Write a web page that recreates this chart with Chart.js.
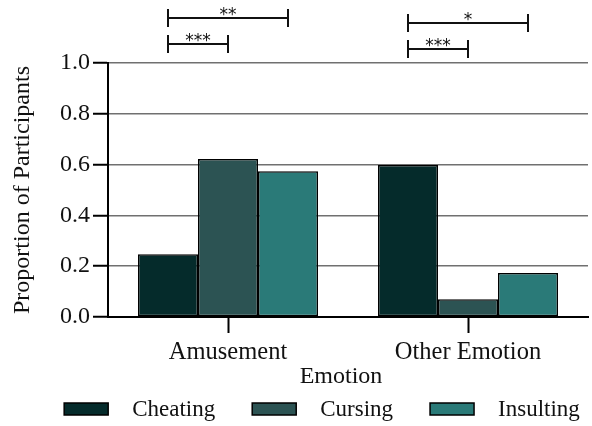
<!DOCTYPE html>
<html>
<head>
<meta charset="utf-8">
<script src="https://cdn.jsdelivr.net/npm/chart.js@4/dist/chart.umd.min.js"></script>
<style>
  html, body { margin: 0; padding: 0; background: #ffffff; }
  #wrap { width: 592px; height: 426px; position: relative; }
</style>
</head>
<body>
<div id="wrap"><canvas id="c" width="592" height="426"></canvas></div>
<script>
// ---- Data ----
const categories = ['Amusement', 'Other Emotion'];
const seriesNames = ['Cheating', 'Cursing', 'Insulting'];
const cheating = [0.247, 0.598];
const cursing = [0.622, 0.070];
const insulting = [0.574, 0.173];
const yTickValues = [0.0, 0.2, 0.4, 0.6, 0.8, 1.0];
const xAxisTitle = 'Emotion';
const yAxisTitle = 'Proportion of Participants';
// significance comparisons: category index, from series, to series, label
const sigCategory = [0, 0, 1, 1];
const sigFrom = [0, 0, 0, 0];
const sigTo = [1, 2, 1, 2];
const sigLabel = ['***', '**', '***', '*'];

// ---- Style ----
const colors = ['#052b2b', '#2c5353', '#2a7a78'];
const serif = "'Liberation Serif', 'Times New Roman', serif";
const bracketOffsets = [19, 45, 14, 40]; // px above plot top

const annotate = {
  id: 'annotate',
  afterDraw(chart) {
    const ctx = chart.ctx;
    const area = chart.chartArea;
    ctx.save();
    // significance brackets
    ctx.strokeStyle = '#111';
    ctx.fillStyle = '#111';
    ctx.lineWidth = 2;
    for (let i = 0; i < sigLabel.length; i++) {
      const c = sigCategory[i];
      const x1 = chart.getDatasetMeta(sigFrom[i]).data[c].x;
      const x2 = chart.getDatasetMeta(sigTo[i]).data[c].x;
      const y = area.top - bracketOffsets[i];
      ctx.beginPath();
      ctx.moveTo(x1, y); ctx.lineTo(x2, y);
      ctx.moveTo(x1, y - 9); ctx.lineTo(x1, y + 9);
      ctx.moveTo(x2, y - 9); ctx.lineTo(x2, y + 9);
      ctx.stroke();
      ctx.font = "17px 'DejaVu Sans', sans-serif";
      ctx.textAlign = 'center';
      ctx.textBaseline = 'alphabetic';
      ctx.fillText(sigLabel[i], (x1 + x2) / 2, y + 2);
    }
    // x axis title
    ctx.font = '24px ' + serif;
    ctx.fillStyle = '#111';
    ctx.textAlign = 'center';
    ctx.textBaseline = 'middle';
    ctx.fillText(xAxisTitle, 341, 377);
    // legend
    const boxW = 44, boxH = 12, gapText = 24, gapItem = 37;
    ctx.font = '23px ' + serif;
    const widths = seriesNames.map(n => boxW + gapText + ctx.measureText(n).width);
    const total = widths.reduce((a, b) => a + b, 0) + gapItem * (seriesNames.length - 1);
    let x = 322 - total / 2;
    const ly = 409;
    for (let i = 0; i < seriesNames.length; i++) {
      ctx.fillStyle = colors[i];
      ctx.fillRect(x, ly - boxH / 2, boxW, boxH);
      ctx.lineWidth = 1.5;
      ctx.strokeStyle = '#000';
      ctx.strokeRect(x, ly - boxH / 2, boxW, boxH);
      ctx.fillStyle = '#111';
      ctx.textAlign = 'left';
      ctx.textBaseline = 'middle';
      ctx.fillText(seriesNames[i], x + boxW + gapText, ly + 1);
      x += widths[i] + gapItem;
    }
    ctx.restore();
  }
};

const seriesData = [cheating, cursing, insulting];
new Chart(document.getElementById('c'), {
  type: 'bar',
  data: {
    labels: categories,
    datasets: seriesNames.map((n, i) => ({
      label: n,
      data: seriesData[i],
      backgroundColor: colors[i],
      borderColor: '#000',
      borderWidth: 1.5,
      borderSkipped: false,
      categoryPercentage: 0.75,
      barPercentage: 1.0
    }))
  },
  options: {
    responsive: false,
    animation: false,
    devicePixelRatio: 1,
    layout: { padding: { top: 63, right: 4, bottom: 0, left: 0 } },
    plugins: { legend: { display: false }, tooltip: { enabled: false } },
    scales: {
      x: {
        afterFit: s => { s.height = 109; },
        grid: { display: true, drawOnChartArea: false, offset: false, drawTicks: true,
                tickLength: 16, tickColor: '#000', tickWidth: 2 },
        border: { display: true, color: '#000', width: 2 },
        ticks: { color: '#111', padding: 5, font: { family: serif, size: 24.5 } }
      },
      y: {
        min: 0, max: 1.0,
        afterFit: s => { s.width = 108; },
        afterBuildTicks: s => { s.ticks = yTickValues.map(v => ({ value: v })); },
        grid: { color: '#707070', lineWidth: 1.5, drawTicks: true, tickLength: 15,
                tickColor: '#000', tickWidth: 2 },
        border: { display: true, color: '#000', width: 2 },
        ticks: { color: '#111', padding: 3, font: { family: serif, size: 24 },
                 callback: v => Number(v).toFixed(1) },
        title: { display: true, text: yAxisTitle, color: '#111',
                 font: { family: serif, size: 24 }, padding: { top: 8, bottom: 0 } }
      }
    }
  },
  plugins: [annotate]
});
</script>
</body>
</html>
